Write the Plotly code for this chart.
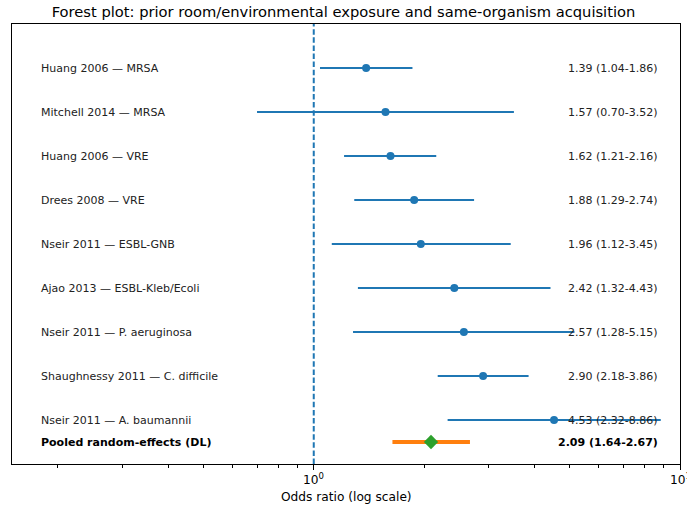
import numpy as np
import plotly.graph_objects as go

studies = ["Huang 2006 — MRSA", "Mitchell 2014 — MRSA", "Huang 2006 — VRE", "Drees 2008 — VRE",
           "Nseir 2011 — ESBL-GNB", "Ajao 2013 — ESBL-Kleb/Ecoli", "Nseir 2011 — P. aeruginosa",
           "Shaughnessy 2011 — C. difficile", "Nseir 2011 — A. baumannii"]
or_vals = [1.39, 1.57, 1.62, 1.88, 1.96, 2.42, 2.57, 2.90, 4.53]
ci_low = [1.04, 0.70, 1.21, 1.29, 1.12, 1.32, 1.28, 2.18, 2.32]
ci_high = [1.86, 3.52, 2.16, 2.74, 3.45, 4.43, 5.15, 3.86, 8.86]
pooled_label = "Pooled random-effects (DL)"
pooled = [2.09, 1.64, 2.67]
tick_vals = [1, 10]
tick_text = ["10<sup>0</sup>", "10<sup>1</sup>"]

n = len(studies)
ypos = [n - 1 - i for i in range(n)]
y_pooled = -0.5

BLUE = "#1f77b4"
FONT = "DejaVu Sans"
fig = go.Figure()

for i in range(n):
    fig.add_trace(go.Scatter(x=[ci_low[i], ci_high[i]], y=[ypos[i], ypos[i]], mode="lines",
                             line=dict(color=BLUE, width=2), showlegend=False, hoverinfo="skip"))
fig.add_trace(go.Scatter(x=or_vals, y=ypos, mode="markers",
                         marker=dict(color=BLUE, size=8, symbol="circle"), showlegend=False))
fig.add_trace(go.Scatter(x=[pooled[1], pooled[2]], y=[y_pooled, y_pooled], mode="lines",
                         line=dict(color="#ff7f0e", width=4), showlegend=False))
fig.add_trace(go.Scatter(x=[pooled[0]], y=[y_pooled], mode="markers",
                         marker=dict(color="#2ca02c", size=11, symbol="diamond"), showlegend=False))

fig.add_shape(type="line", x0=1, x1=1, y0=0, y1=1, xref="x", yref="paper",
              line=dict(color=BLUE, width=2, dash="5.5px,2.6px"), layer="below")

xl = 0.178
xr = 8.65
LF = 11
for i in range(n):
    fig.add_annotation(x=np.log10(xl), y=ypos[i], text=studies[i], showarrow=False, xanchor="left",
                       font=dict(family=FONT, size=LF, color="#222"))
    fig.add_annotation(x=np.log10(xr), y=ypos[i],
                       text=f"{or_vals[i]:.2f} ({ci_low[i]:.2f}-{ci_high[i]:.2f})", xshift=3,
                       showarrow=False, xanchor="right", font=dict(family=FONT, size=LF, color="#222"))
fig.add_annotation(x=np.log10(xl), y=y_pooled, text="<b>" + pooled_label + "</b>", showarrow=False,
                   xanchor="left", font=dict(family=FONT, size=LF, color="black"))
fig.add_annotation(x=np.log10(xr), y=y_pooled, xshift=3,
                   text=f"<b>{pooled[0]:.2f} ({pooled[1]:.2f}-{pooled[2]:.2f})</b>",
                   showarrow=False, xanchor="right", font=dict(family=FONT, size=LF, color="black"))

# tick labels drawn as annotations so the right one is kept (and cut by the page edge)
for v, t in zip(tick_vals, tick_text):
    fig.add_annotation(x=np.log10(v), y=0, xref="x", yref="paper", yanchor="top", yshift=-5,
                       text=t, showarrow=False, font=dict(family=FONT, size=12.2, color="black"))
fig.add_annotation(x=0.5, y=0, xref="paper", yref="paper", yanchor="middle", yshift=-33,
                   text="Odds ratio (log scale)", showarrow=False,
                   font=dict(family=FONT, size=12.2, color="black"))

minor_vals = [v * d for d in (0.1, 1) for v in range(2, 10) if v * d >= 0.15]
fig.update_layout(
    width=687, height=508,
    margin=dict(l=12, r=7, t=24, b=44),
    paper_bgcolor="white", plot_bgcolor="white",
    title=dict(text="Forest plot: prior room/environmental exposure and same-organism acquisition",
               x=0.5, xanchor="center", y=0.976, yanchor="middle",
               font=dict(family=FONT, size=14.7, color="black")),
    font=dict(family=FONT, size=12.2, color="black"),
    xaxis=dict(type="log", range=[np.log10(0.15), 1], tickvals=tick_vals, automargin=False,
               showticklabels=False, ticks="outside", ticklen=5,
               tickcolor="black", showgrid=False, zeroline=False, showline=True, linecolor="black",
               mirror=True, linewidth=1,
               minor=dict(tickvals=minor_vals, ticks="outside", ticklen=3, tickcolor="black",
                          showgrid=False)),
    yaxis=dict(range=[-1, n], showticklabels=False, ticks="", showgrid=False, zeroline=False,
               automargin=False, showline=True, linecolor="black", mirror=True, linewidth=1),
)

fig.write_html("out.html")
